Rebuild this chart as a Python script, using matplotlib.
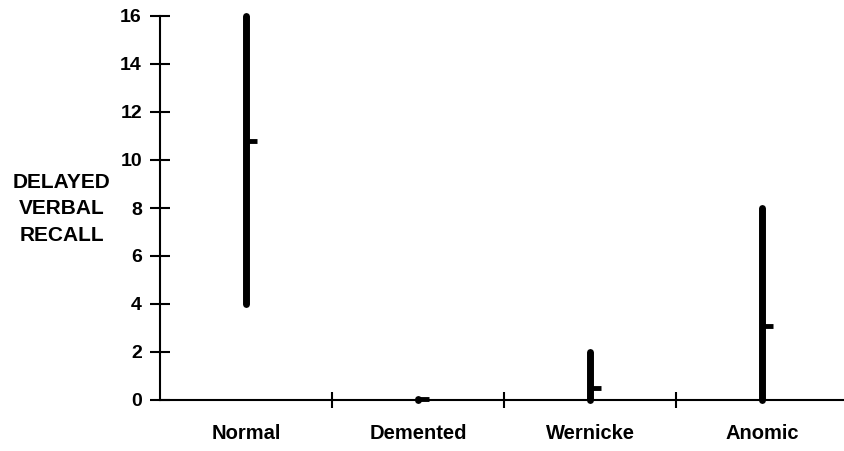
import matplotlib.pyplot as plt

plt.rcParams['font.family'] = ['Liberation Sans', 'DejaVu Sans']
plt.rcParams['font.weight'] = 'bold'

groups = ['Normal', 'Demented', 'Wernicke', 'Anomic']
low = [4, 0, 0, 0]
high = [16, 0.05, 2, 8]
mean = [10.8, 0.05, 0.5, 3.1]

fig = plt.figure(figsize=(8.45, 4.51), dpi=100)
ax = fig.add_axes([160 / 845, 1 - 400 / 451, 688 / 845, 384 / 451])

pos = [i + 0.5 for i in range(len(groups))]
for x, lo, hi, m in zip(pos, low, high, mean):
    ax.plot([x, x], [lo, hi], color='black', lw=5, solid_capstyle='round', clip_on=False)
    ax.plot([x, x + 0.065], [m, m], color='black', lw=3.5, solid_capstyle='butt', clip_on=False)

ax.set_xlim(0, 4)
ax.set_ylim(0, 16)
ax.set_yticks(range(0, 17, 2))
ax.set_xticks([1, 2, 3, 4])
ax.set_xticks(pos, minor=True)
ax.set_xticklabels([])
ax.set_xticklabels(groups, minor=True, fontsize=14.5, fontweight='bold')
ax.tick_params(axis='x', which='minor', length=0, pad=17)
ax.tick_params(axis='x', which='major', direction='inout', length=12, width=1.5)
ax.tick_params(axis='y', direction='inout', length=14, width=1.5, labelsize=14, pad=6)
for lab in ax.get_yticklabels():
    lab.set_fontweight('bold')

for s in ['top', 'right']:
    ax.spines[s].set_visible(False)
for s in ['left', 'bottom']:
    ax.spines[s].set_linewidth(1.5)

fig.text(62 / 845, 1 - 209 / 451, 'DELAYED\nVERBAL\nRECALL', ha='center', va='center',
         fontsize=15, fontweight='bold', linespacing=1.5)

fig.savefig('out.png', dpi=100)
